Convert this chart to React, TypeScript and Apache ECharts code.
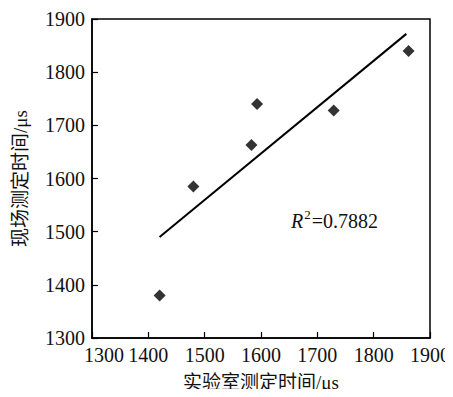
import React, { useEffect, useRef } from "react";
import * as echarts from "echarts";

const labTimes = [1420, 1480, 1583, 1593, 1729, 1862];
const fieldTimes = [1380, 1585, 1663, 1740, 1728, 1840];
const fitLine = [
  [1420, 1490],
  [1858, 1872],
];
const tickValues = [1300, 1400, 1500, 1600, 1700, 1800, 1900];
const xName = "实验室测定时间/μs";
const yName = "现场测定时间/μs";
const r2Text = "0.7882";

export default function App() {
  const ref = useRef<HTMLDivElement>(null);
  useEffect(() => {
    if (!ref.current) return;
    const chart = echarts.init(ref.current, null, { renderer: "svg" });
    const font = "Times New Roman, Liberation Serif, DejaVu Serif, serif";
    const cjk = "Times New Roman, Liberation Serif, Noto Sans CJK SC, serif";
    const fs = 20;
    const axisCommon = {
      min: tickValues[0],
      max: tickValues[tickValues.length - 1],
      interval: 100,
      splitLine: { show: false },
      axisLine: { show: true, lineStyle: { color: "#000", width: 1.5 } },
      axisTick: { show: true, inside: true, length: 6, lineStyle: { color: "#000", width: 1.2 } },
    };
    chart.setOption({
      animation: false,
      backgroundColor: "#fff",
      textStyle: { fontFamily: font },
      grid: {
        left: 92,
        right: 17,
        top: 19,
        bottom: 53,
        show: true,
        borderColor: "#000",
        borderWidth: 1.5,
        containLabel: false,
      },
      xAxis: {
        type: "value",
        ...axisCommon,
        name: xName,
        nameLocation: "middle",
        nameGap: 35,
        nameTextStyle: { fontFamily: cjk, fontSize: 19, color: "#111" },
        axisLabel: {
          margin: 7,
          fontFamily: font,
          fontSize: fs,
          color: "#111",
          formatter: (v: number) => (v === tickValues[0] ? "{a|" + v + "}" : String(v)),
          rich: { a: { fontFamily: font, fontSize: fs, color: "#111", padding: [0, 0, 0, 24] } },
        },
      },
      yAxis: {
        type: "value",
        ...axisCommon,
        name: yName,
        nameLocation: "middle",
        nameGap: 62,
        nameTextStyle: { fontFamily: cjk, fontSize: 19, color: "#111" },
        axisLabel: {
          margin: 7,
          fontFamily: font,
          fontSize: fs,
          color: "#111",
          formatter: (v: number) => String(v),
        },
      },
      graphic: [
        {
          type: "text",
          left: 291,
          top: 208,
          style: {
            text: "{r|R}{s|2}{t|=" + r2Text + "}",
            rich: {
              r: { fontFamily: font, fontStyle: "italic", fontSize: fs, fill: "#111", verticalAlign: "bottom" },
              s: { fontFamily: font, fontSize: 13, fill: "#111", verticalAlign: "top", padding: [0, 1, 10, 1] },
              t: { fontFamily: font, fontSize: fs, fill: "#111", verticalAlign: "bottom" },
            },
          },
        },
      ],
      series: [
        {
          type: "scatter",
          data: labTimes.map((x, i) => [x, fieldTimes[i]]),
          symbol: "diamond",
          symbolSize: [12, 12],
          itemStyle: { color: "#000" },
        },
        {
          type: "line",
          data: fitLine,
          symbol: "none",
          lineStyle: { color: "#000", width: 2 },
        },
      ],
    });
    return () => chart.dispose();
  }, []);
  return <div ref={ref} style={{ width: 453, height: 397, margin: -8 }} />;
}
